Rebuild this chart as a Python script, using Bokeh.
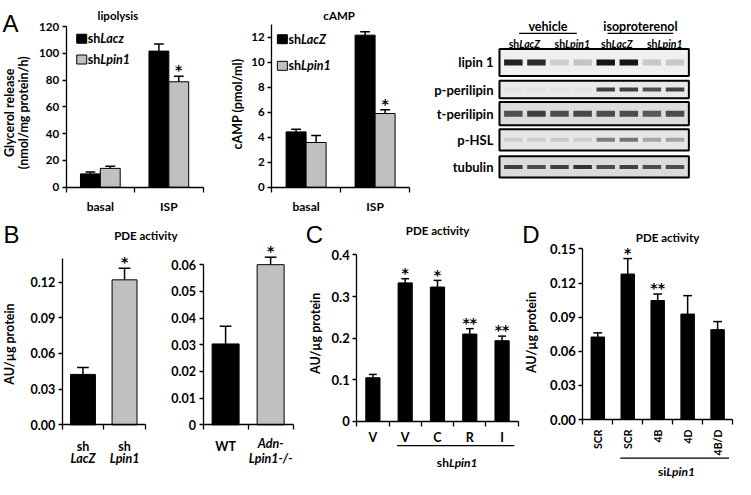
import math
from bokeh.plotting import figure
from bokeh.models import Range1d, FixedTicker, LinearAxis, NumeralTickFormatter
from bokeh.core.properties import value
from bokeh.embed import file_html
from bokeh.resources import INLINE

FONT = "Lato"
LETTER_FONT = "Liberation Sans"
STAR_FONT = "DejaVu Sans"
GREY = "#c0c0c0"

# ---------------- data ----------------
lipo_groups = ["basal", "ISP"]
lipo_series = ["Lacz", "Lpin1"]
lipo_lacz = [10.0, 101.7]
lipo_lacz_err = [1.4, 5.3]
lipo_lpin1 = [14.1, 78.8]
lipo_lpin1_err = [1.6, 4.1]
lipo_lpin1_sig = ["", "*"]
lipo_yticks = [0, 20, 40, 60, 80, 100, 120]

camp_groups = ["basal", "ISP"]
camp_series = ["LacZ", "Lpin1"]
camp_lacz = [4.43, 12.17]
camp_lacz_err = [0.22, 0.27]
camp_lpin1 = [3.58, 5.90]
camp_lpin1_err = [0.57, 0.31]
camp_lpin1_sig = ["", "*"]
camp_yticks = [0, 2, 4, 6, 8, 10, 12]

blot_rows = ["lipin 1", "p-perilipin", "t-perilipin", "p-HSL", "tubulin"]
blot_treatments = ["vehicle", "isoproterenol"]
blot_lane_groups = ["LacZ", "Lpin1", "LacZ", "Lpin1"]
blot_lipin1 = [0.95, 0.9, 0.15, 0.2, 1.0, 1.0, 0.18, 0.18]
blot_pperilipin = [0.03, 0.03, 0.03, 0.03, 0.8, 0.8, 0.72, 0.78]
blot_tperilipin = [0.7, 0.8, 0.72, 0.75, 0.72, 0.72, 0.66, 0.72]
blot_phsl = [0.12, 0.12, 0.14, 0.12, 0.5, 0.55, 0.3, 0.32]
blot_tubulin = [0.8, 0.72, 0.78, 0.85, 0.72, 0.78, 0.72, 0.72]

pde_sh_groups = ["sh\nLacZ", "sh\nLpin1"]
pde_sh = [0.0424, 0.1219]
pde_sh_err = [0.0057, 0.0097]
pde_sh_sig = ["", "*"]
pde_sh_yticks = [0, 0.03, 0.06, 0.09, 0.12]

pde_ko_groups = ["WT", "Adn-\nLpin1-/-"]
pde_ko_italic = [False, True]
pde_ko = [0.0303, 0.0600]
pde_ko_err = [0.0066, 0.0028]
pde_ko_sig = ["", "*"]
pde_ko_yticks = [0, 0.01, 0.02, 0.03, 0.04, 0.05, 0.06]

c_groups = ["V", "V", "C", "R", "I"]
c_vals = [0.105, 0.333, 0.323, 0.210, 0.194]
c_err = [0.008, 0.010, 0.016, 0.013, 0.011]
c_sig = ["", "*", "*", "**", "**"]
c_yticks = [0, 0.1, 0.2, 0.3, 0.4]
c_bracket = ("sh", "Lpin1", 2, 5)

d_groups = ["SCR", "SCR", "4B", "4D", "4B/D"]
d_vals = [0.0725, 0.1279, 0.1046, 0.0927, 0.0790]
d_err = [0.0037, 0.0136, 0.0057, 0.0162, 0.0071]
d_sig = ["", "*", "**", "", ""]
d_yticks = [0, 0.03, 0.06, 0.09, 0.12, 0.15]
d_bracket = ("si", "Lpin1", 2, 5)

# ---------------- one canvas; default ranges = reference pixel grid ----------------
W_REF, H_REF = 751, 495
W, H = 735, 479
SX = W / W_REF

p = figure(width=W, height=H, x_range=Range1d(0, W_REF), y_range=Range1d(H_REF, 0),
           x_axis_location=None, y_axis_location=None, min_border=0,
           min_border_left=0, min_border_right=0, min_border_top=0, min_border_bottom=0,
           output_backend="svg", toolbar_location=None, tools="")
p.grid.visible = False
p.outline_line_color = None
p.background_fill_color = "white"
p.border_fill_color = "white"

CW = {c: 0.30 for c in "ijlt1-/!. ()rf"}
CW.update({c: 0.64 for c in "ABCDGHKNOPRUVXYmw"})


def text_w(s, fs):
    return fs * sum(CW.get(c, 0.54) for c in s) / SX


def ts(fs, style="bold", font=FONT):
    return dict(text_font=value(font), text_font_style=style,
                text_font_size=f"{fs}px", text_color="black")


class Panel:
    """A bar panel: its own x (category) and y (value) ranges spread over the canvas."""

    def __init__(self, name, fl, fr, fb, n, yref):
        self.name, self.fl, self.fr, self.fb, self.n = name, fl, fr, fb, n
        self.kx = (fr - fl) / n
        self.ppu = (fb - yref[1]) / yref[0]
        p.extra_x_ranges = {**p.extra_x_ranges, name: Range1d(self.X(0), self.X(W_REF))}
        p.extra_y_ranges = {**p.extra_y_ranges, name: Range1d(self.Y(H_REF), self.Y(0))}

    def X(self, px):
        return 0.5 + (px - self.fl) / self.kx

    def Y(self, py):
        return (self.fb - py) / self.ppu

    def DX(self, d):
        return d / self.kx

    def DY(self, d):
        return d / self.ppu

    @property
    def kw(self):
        return dict(x_range_name=self.name, y_range_name=self.name)

    @property
    def kwx(self):
        return dict(x_range_name=self.name)

    def axes(self, xlabels, yticks, ybound, yfmt, tick_fs, xlab_fs, x_standoff,
             orient=None):
        cats = list(range(1, self.n + 1))
        bounds = [c - 0.5 for c in cats] + [self.n + 0.5]
        if xlabels is None:
            tk = FixedTicker(ticks=[], minor_ticks=bounds)
        else:
            keep = [c for c, l in zip(cats, xlabels) if l]
            tk = FixedTicker(ticks=keep, minor_ticks=bounds)
        xa = LinearAxis(fixed_location=0, bounds=(0.5, self.n + 0.5), ticker=tk, **self.kw)
        if xlabels is not None:
            xa.major_label_overrides = {c: l for c, l in zip(cats, xlabels) if l}
        xa.major_tick_in = 0
        xa.major_tick_out = 0
        xa.minor_tick_in = 0
        xa.minor_tick_out = 5
        xa.minor_tick_line_color = "black"
        xa.minor_tick_line_width = 1.3
        xa.axis_line_color = "black"
        xa.axis_line_width = 1.3
        xa.major_label_text_font = FONT
        xa.major_label_text_font_style = "bold"
        xa.major_label_text_font_size = f"{xlab_fs}px"
        xa.major_label_text_color = "black"
        xa.major_label_standoff = x_standoff
        if orient is not None:
            xa.major_label_orientation = orient
        p.add_layout(xa, "below")
        ya = LinearAxis(fixed_location=0.5, bounds=(0, ybound),
                        ticker=FixedTicker(ticks=yticks, minor_ticks=[]),
                        formatter=NumeralTickFormatter(format=yfmt), **self.kw)
        ya.major_tick_in = 0
        ya.major_tick_out = 4
        ya.minor_tick_in = 0
        ya.minor_tick_out = 0
        ya.major_tick_line_color = "black"
        ya.major_tick_line_width = 1.3
        ya.axis_line_color = "black"
        ya.axis_line_width = 1.3
        ya.major_label_text_font = FONT
        ya.major_label_text_font_style = "bold"
        ya.major_label_text_font_size = f"{tick_fs}px"
        ya.major_label_text_color = "black"
        ya.major_label_standoff = 3
        p.add_layout(ya, "left")

    def bars(self, xs, tops, width, colors):
        p.vbar(x=xs, top=tops, bottom=0, width=width, fill_color=colors,
               line_color="black", line_width=1, **self.kw)

    def errbars(self, xs, tops, errs, cap_px):
        c = self.DX(cap_px)
        hi = [t + e for t, e in zip(tops, errs)]
        p.segment(x0=xs, y0=tops, x1=xs, y1=hi, line_color="black", line_width=1.5,
                  **self.kw)
        p.segment(x0=[x - c for x in xs], y0=hi, x1=[x + c for x in xs], y1=hi,
                  line_color="black", line_width=1.5, **self.kw)

    def stars(self, xs, tops, errs, sig, fs=14):
        p.text(x=xs, y=[t + e + self.DY(6) for t, e in zip(tops, errs)], text=sig,
               text_align="center", text_baseline="alphabetic",
               **ts(fs, "bold", STAR_FONT), **self.kw)


def ylabel(text, x, y, fs=12.5):
    p.text(x=[x], y=[y], text=[text], angle=math.pi / 2, text_align="center",
           text_baseline="middle", **ts(fs))


def title(text, cx, cy, fs=11.5):
    p.text(x=[cx], y=[cy], text=[text], text_align="center", text_baseline="middle", **ts(fs))


def letter(text, x, y, fs=24):
    p.text(x=[x], y=[y], text=[text], text_align="left", text_baseline="alphabetic",
           text_font=value(LETTER_FONT), text_font_size=f"{fs}px", text_color="black")


def mixed(xs, ys, plains, itals, fs, from_px=lambda d: d, xkw=None, baseline="middle"):
    xkw = xkw or {}
    anchors = [x + from_px((text_w(a, fs) - text_w(b, fs)) / 2)
               for x, a, b in zip(xs, plains, itals)]
    p.text(x=anchors, y=ys, text=plains, text_align="right", text_baseline=baseline,
           **ts(fs), **xkw)
    p.text(x=anchors, y=ys, text=itals, text_align="left", text_baseline=baseline,
           **ts(fs, "bold italic"), **xkw)


def legend(sq_x, ys, anchor, names, fs):
    p.rect(x=[sq_x] * 2, y=list(ys), width=10, height=9, width_units="screen",
           height_units="screen", fill_color=["black", GREY], line_color="black",
           line_width=1)
    p.text(x=[anchor] * 2, y=list(ys), text=["sh", "sh"], text_align="right",
           text_baseline="middle", **ts(fs))
    p.text(x=[anchor] * 2, y=list(ys), text=names, text_align="left",
           text_baseline="middle", **ts(fs, "bold italic"))


def two_series(P, v1, e1, v2, e2, sig2, off, w, cap_px):
    n = len(v1)
    x1 = [i + 1 - off for i in range(n)]
    x2 = [i + 1 + off for i in range(n)]
    P.bars(x1, v1, w, "black")
    P.bars(x2, v2, w, GREY)
    P.errbars(x1, v1, e1, cap_px)
    P.errbars(x2, v2, e2, cap_px)
    P.stars(x2, v2, e2, sig2)


def bracket(P, spec, y_line, y_text, fs=12):
    plain, ital, a, b = spec
    x0, x1 = a - 0.25, b + 0.38
    p.segment(x0=[x0], y0=[y_line], x1=[x1], y1=[y_line], line_color="black",
              line_width=1.3, **P.kwx)
    mixed([(x0 + x1) / 2], [y_text], [plain], [ital], fs, from_px=P.DX, xkw=P.kwx)


# ================= A: lipolysis =================
PA1 = Panel("a1", 67, 207, 193, 2, (120, 27))
PA1.axes(lipo_groups, lipo_yticks, 120, "0", 11.5, 12, 7)
two_series(PA1, lipo_lacz, lipo_lacz_err, lipo_lpin1, lipo_lpin1_err, lipo_lpin1_sig,
           0.145, 0.29, 5)
legend(83, (39.5, 61), 102, lipo_series, 12.5)
title("lipolysis", 120, 15)
ylabel("Glycerol release", 9, 116, 12.5)
ylabel("(nmol/mg protein/h)", 23, 116, 12.5)
letter("A", 2, 24)

# ================= A: cAMP =================
PA2 = Panel("a2", 277, 418, 193, 2, (12, 38))
PA2.axes(camp_groups, camp_yticks, 13, "0", 11.5, 12, 7)
two_series(PA2, camp_lacz, camp_lacz_err, camp_lpin1, camp_lpin1_err, camp_lpin1_sig,
           0.145, 0.29, 5)
legend(288, (40, 67.5), 307, camp_series, 12.5)
title("cAMP", 346, 15)
ylabel("cAMP (pmol/ml)", 242, 107, 12.5)

# ================= A: western blot =================
LANE0_PX, LANE_PX = 524, 23.6
p.extra_x_ranges = {**p.extra_x_ranges,
                    "blot": Range1d(1 - LANE0_PX / LANE_PX, 1 + (W_REF - LANE0_PX) / LANE_PX)}
BK = dict(x_range_name="blot")
ROW_SPANS = [(50, 78), (83, 101), (105, 129), (133, 155), (161, 183)]
ROW_FILL = ["#efefef", "#e9e9e9", "#dcdcdc", "#e6e6e6", "#dbdbdb"]
BAND_H = [6, 4, 6, 4, 4]
blot_bands = [blot_lipin1, blot_pperilipin, blot_tperilipin, blot_phsl, blot_tubulin]
lanes = list(range(1, 9))
p.quad(left=0.4, right=8.6, top=[t for t, b in ROW_SPANS], bottom=[b for t, b in ROW_SPANS],
       fill_color=ROW_FILL, line_color="black", line_width=2, **BK)
for (t, b), inten, h in zip(ROW_SPANS, blot_bands, BAND_H):
    yc = (t + b) / 2
    p.rect(x=lanes, y=[yc] * len(lanes), width=0.8, height=h, height_units="screen",
           fill_color="#151515", fill_alpha=inten, line_color=None, **BK)
centers = [(t + b) // 2 for t, b in ROW_SPANS]
yb = LinearAxis(fixed_location=0.4, x_range_name="blot",
                ticker=FixedTicker(ticks=centers, minor_ticks=[]))
yb.major_label_overrides = {c: nm for c, nm in zip(centers, blot_rows)}
yb.axis_line_color = None
yb.major_tick_line_color = None
yb.minor_tick_line_color = None
yb.major_tick_out = 0
yb.major_tick_in = 0
yb.major_label_standoff = 6
yb.major_label_text_font = FONT
yb.major_label_text_font_style = "bold"
yb.major_label_text_font_size = "13px"
yb.major_label_text_color = "black"
p.add_layout(yb, "left")
grp_c = [2.5, 6.5]
grp_half = [1.25, 1.42]
p.text(x=grp_c, y=[27, 27], text=blot_treatments, text_align="center",
       text_baseline="middle", **ts(12.5), **BK)
p.segment(x0=[c - h for c, h in zip(grp_c, grp_half)], y0=[34, 34],
          x1=[c + h for c, h in zip(grp_c, grp_half)], y1=[34, 34],
          line_color="black", line_width=1.3, **BK)
mixed([1.5, 3.5, 5.5, 7.5], [45] * 4, ["sh"] * 4, blot_lane_groups, 10.5,
      from_px=lambda d: d / LANE_PX, xkw=BK)

# ================= B =================
letter("B", 3, 242)
title("PDE  activity", 150, 243)

PB1 = Panel("b1", 63, 148, 438.5, 2, (0.12, 291))
PB1.axes([g.split("\n")[0] for g in pde_sh_groups], pde_sh_yticks, 0.14, "0.00",
         12.5, 12.5, 9)
xs = [1, 2]
PB1.bars(xs, pde_sh, 0.6, ["black", GREY])
PB1.errbars(xs, pde_sh, pde_sh_err, 6)
PB1.stars(xs, pde_sh, pde_sh_err, pde_sh_sig)
p.text(x=xs, y=[473, 473], text=[g.split("\n")[1] for g in pde_sh_groups],
       text_align="center", text_baseline="middle", **ts(12.5, "bold italic"), **PB1.kwx)
ylabel("AU/\u00b5g protein", 9, 355, 12.5)

PB2 = Panel("b2", 207, 299, 438.5, 2, (0.06, 273))
PB2.axes([g if not it else "" for g, it in zip(pde_ko_groups, pde_ko_italic)],
         pde_ko_yticks, 0.06, "0.[00]", 12.5, 12.5, 9)
PB2.bars(xs, pde_ko, 0.6, ["black", GREY])
PB2.errbars(xs, pde_ko, pde_ko_err, 6)
PB2.stars(xs, pde_ko, pde_ko_err, pde_ko_sig)
for x, g, it in zip(xs, pde_ko_groups, pde_ko_italic):
    if it:
        lines = g.split("\n")
        p.text(x=[x] * len(lines), y=[458 + 15 * k for k in range(len(lines))], text=lines,
               text_align="center", text_baseline="middle", **ts(12.5, "bold italic"),
               **PB2.kwx)

# ================= C =================
PC = Panel("c", 364, 529, 435, 5, (0.4, 263))
PC.axes(c_groups, c_yticks, 0.4, "0.[0]", 13, 12.5, 4)
xc = list(range(1, 6))
PC.bars(xc, c_vals, 0.44, "black")
PC.errbars(xc, c_vals, c_err, 4)
PC.stars(xc, c_vals, c_err, c_sig)
title("PDE  activity", 448, 238)
letter("C", 312, 242)
ylabel("AU/\u00b5g protein", 322, 344, 12.5)
bracket(PC, c_bracket, 460, 477)

# ================= D =================
PD = Panel("d", 595, 748, 433, 5, (0.15, 256.7))
PD.axes(d_groups, d_yticks, 0.15, "0.00", 13, 10.5, 5, orient=math.pi / 2)
PD.bars(xc, d_vals, 0.45, "black")
PD.errbars(xc, d_vals, d_err, 4.5)
PD.stars(xc, d_vals, d_err, d_sig)
title("PDE  activity", 683, 245)
letter("D", 533, 242)
ylabel("AU/\u00b5g protein", 543, 343, 12.5)
bracket(PD, d_bracket, 473, 487)

open("out.html", "w").write(file_html(p, INLINE))
